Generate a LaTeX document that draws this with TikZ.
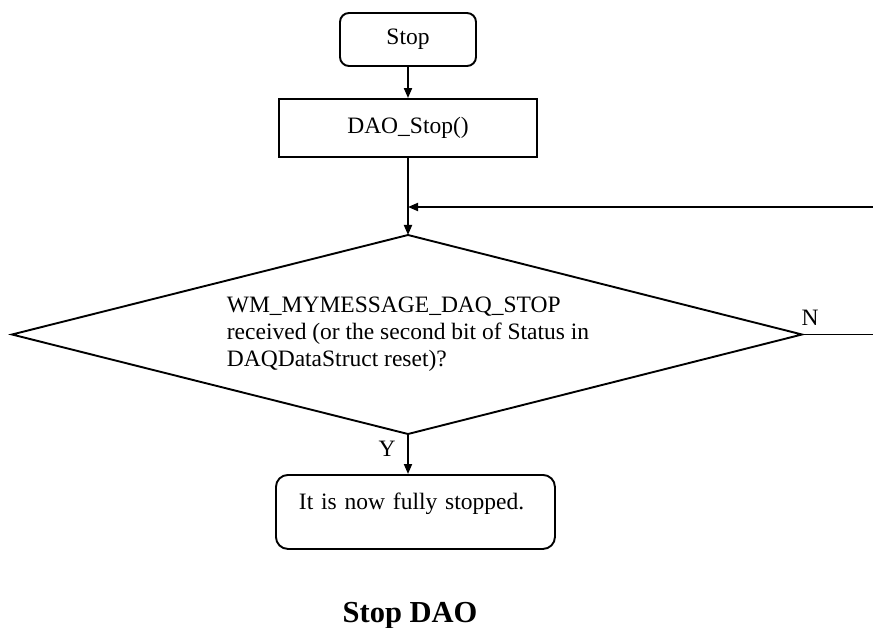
\documentclass[tikz,border=0pt]{standalone}
\usepackage{fontspec}
\setmainfont{Liberation Serif}
\usetikzlibrary{arrows.meta}

\begin{document}
\begin{tikzpicture}[x=1pt,y=-1pt,
  line width=1.9pt,
  every node/.style={font=\fontsize{23.5}{27}\selectfont},
  arr/.style={-{Triangle[length=10pt,width=8pt]}},
  termbox/.style={draw,rounded corners=9pt,inner sep=0pt},
  procbox/.style={draw,inner sep=0pt},
  flag/.style={inner sep=0pt}
]
\useasboundingbox (0,0) rectangle (873,628);

% process nodes
\node[termbox,minimum width=136pt,minimum height=53pt] (stop) at (408,39.5) {Stop};
\node[procbox,minimum width=258pt,minimum height=58pt] (dao) at (408,128) {DAO\_Stop()};

% decision: corner points and the question
\coordinate (dtop) at (408,235);
\coordinate (dright) at (802,334.5);
\coordinate (dbot) at (408,434);
\coordinate (dleft) at (12,334.5);
\draw[line join=miter] (dtop) -- (dright) -- (dbot) -- (dleft) -- cycle;
\node[align=left,inner sep=0pt] (dia) at (408,334)
  {WM\_MYMESSAGE\_DAQ\_STOP\\received (or the second bit of Status in\\DAQDataStruct reset)?};

\node[termbox,rounded corners=12pt,anchor=north west,minimum width=279pt,minimum height=74pt,
      text width=233pt,align=left,inner xsep=23pt,inner ysep=0pt,text height=35pt,text depth=39pt]
  (fin) at (275,474) {It is now fully stopped.};

% loose ends on the right edge
\coordinate (loopin) at (873,207);
\coordinate (noout) at (873,334.5);

% connectors
\draw[arr] (stop.south) -- (dao.north);
\draw[arr] (dao.south) -- (dtop);
\draw[arr] (loopin) -- (loopin -| dtop);
\draw (dright) -- (noout);
\draw[arr] (dbot) -- (dbot |- fin.north);

% branch labels
\node[flag] (nlab) at (810,318) {N};
\node[flag] (ylab) at (387,449) {Y};

% caption
\node[anchor=base,font=\fontsize{30.5}{34}\selectfont\bfseries] (title) at (410,622) {Stop DAO};
\end{tikzpicture}
\end{document}
